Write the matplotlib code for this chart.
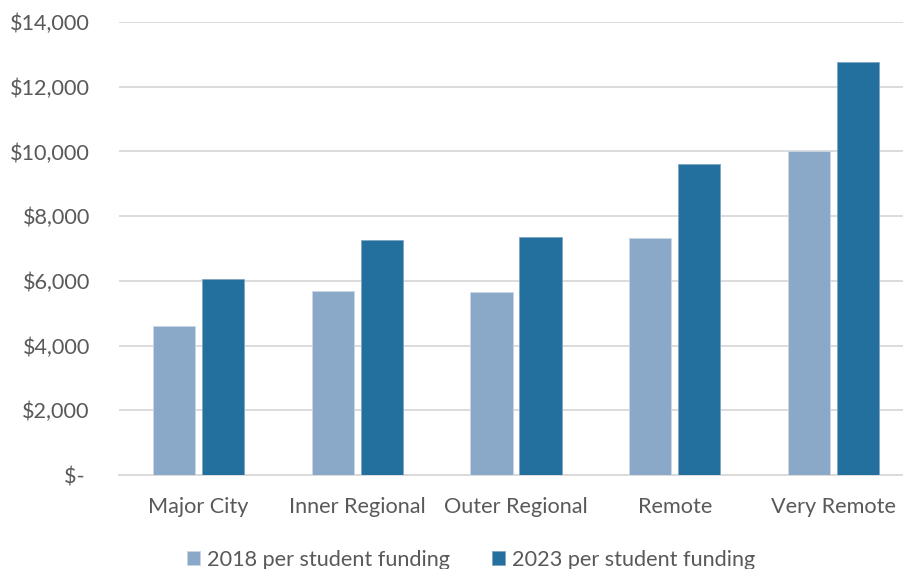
import matplotlib
matplotlib.use("Agg")
import matplotlib.pyplot as plt
import numpy as np
from matplotlib.ticker import FuncFormatter

categories = ["Major City", "Inner Regional", "Outer Regional", "Remote", "Very Remote"]
funding_2018 = [4600, 5700, 5650, 7320, 10000]
funding_2023 = [6050, 7270, 7350, 9600, 12760]
series_labels = ["2018 per student funding", "2023 per student funding"]
yticks = [0, 2000, 4000, 6000, 8000, 10000, 12000, 14000]

plt.rcParams['font.family'] = ['Lato', 'DejaVu Sans']
text_color = "#595959"
grid_color = "#D9D9D9"
c2018 = "#8AA8C7"
c2023 = "#236F9E"
fs = 15.6

fig = plt.figure(figsize=(9.04, 5.69), dpi=100)
ax = fig.add_axes([119/904, 1-475/569, (913-119)/904, (475-22)/569])

x = np.arange(len(categories))
w = 0.265
gap = 0.044
ax.bar(x - (w+gap)/2, funding_2018, width=w, color=c2018, edgecolor="#C9D6E5", linewidth=0.6, label=series_labels[0], zorder=3)
ax.bar(x + (w+gap)/2, funding_2023, width=w, color=c2023, edgecolor="#7FA6C4", linewidth=0.6, label=series_labels[1], zorder=3)

ax.set_xlim(-0.5, len(categories)-0.5)
ax.set_ylim(0, 14000)
ax.set_yticks(yticks)
def fmt(v, pos):
    if v == 0:
        return "$- "
    return "${:,.0f}".format(v)
ax.yaxis.set_major_formatter(FuncFormatter(fmt))
ax.set_xticks(x)
ax.set_xticklabels(categories)
ax.tick_params(axis='both', length=0, labelsize=fs, colors=text_color)
ax.tick_params(axis='y', pad=21)
ax.tick_params(axis='x', pad=16)
ax.grid(axis='y', color=grid_color, linewidth=1.3, zorder=0)
for s in ["top", "right", "left"]:
    ax.spines[s].set_visible(False)
ax.spines["bottom"].set_color(grid_color)
ax.spines["bottom"].set_linewidth(1.3)

fig.legend(loc='center', bbox_to_anchor=(471/904, 1-560/569), ncol=2, frameon=False,
           fontsize=fs, labelcolor=text_color, handlelength=0.6, handleheight=0.6,
           handletextpad=0.3, columnspacing=1.95)

fig.savefig("out.png", dpi=100)
